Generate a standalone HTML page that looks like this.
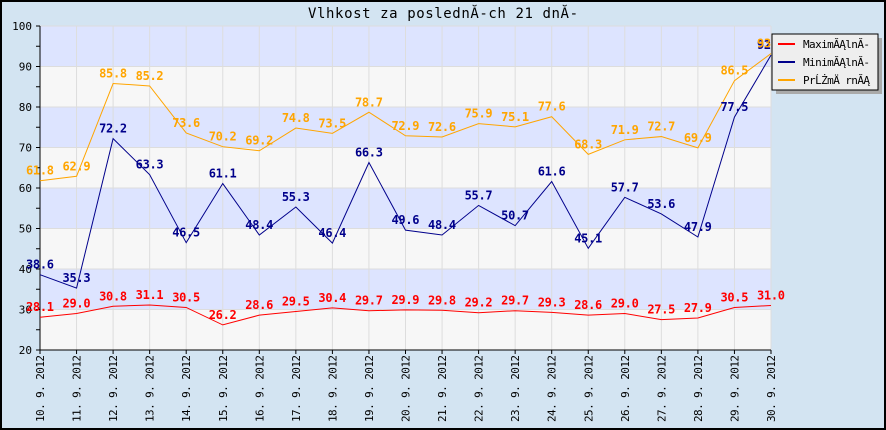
<!DOCTYPE html>
<html><head><meta charset="utf-8"><style>
html,body{margin:0;padding:0;background:#d3e4f2}
svg{display:block}
text{font-family:"DejaVu Sans Mono","Liberation Mono",monospace}
</style></head><body>
<svg id="chart" width="886" height="430" xmlns="http://www.w3.org/2000/svg">
<rect x="1" y="1" width="884" height="428" fill="#d3e4f2" stroke="#000" stroke-width="2"/>
<text x="308" y="18" textLength="270" lengthAdjust="spacing" font-size="14" fill="#000">Vlhkost za poslednĂ-ch 21 dnĂ-</text>
<g id="bands"></g><g id="grid"></g><g id="axes"></g><g id="series"></g><g id="labels"></g>
<g>
<rect x="776" y="38" width="106" height="56" fill="#aaa"/>
<rect x="772" y="34" width="106" height="56" fill="#eeeeee" stroke="#000" stroke-width="1"/>
<line x1="778" y1="44" x2="795" y2="44" stroke="#f00" stroke-width="2"/>
<text x="803" y="48" font-size="11" textLength="67" lengthAdjust="spacing">MaximĂĄlnĂ-</text>
<line x1="778" y1="62" x2="795" y2="62" stroke="#00008b" stroke-width="2"/>
<text x="803" y="66" font-size="11" textLength="67" lengthAdjust="spacing">MinimĂĄlnĂ-</text>
<line x1="778" y1="80" x2="795" y2="80" stroke="#ffa500" stroke-width="2"/>
<text x="803" y="84" font-size="11" textLength="67" lengthAdjust="spacing">PrĹŻmÄ rnĂĄ</text>
</g>
</svg>
<script>
const categories=["10. 9. 2012","11. 9. 2012","12. 9. 2012","13. 9. 2012","14. 9. 2012","15. 9. 2012","16. 9. 2012","17. 9. 2012","18. 9. 2012","19. 9. 2012","20. 9. 2012","21. 9. 2012","22. 9. 2012","23. 9. 2012","24. 9. 2012","25. 9. 2012","26. 9. 2012","27. 9. 2012","28. 9. 2012","29. 9. 2012","30. 9. 2012"];
const maxVals=[28.1,29.0,30.8,31.1,30.5,26.2,28.6,29.5,30.4,29.7,29.9,29.8,29.2,29.7,29.3,28.6,29.0,27.5,27.9,30.5,31.0];
const minVals=[38.6,35.3,72.2,63.3,46.5,61.1,48.4,55.3,46.4,66.3,49.6,48.4,55.7,50.7,61.6,45.1,57.7,53.6,47.9,77.5,92.8];
const avgVals=[61.8,62.9,85.8,85.2,73.6,70.2,69.2,74.8,73.5,78.7,72.9,72.6,75.9,75.1,77.6,68.3,71.9,72.7,69.9,86.5,93.2];
const yTicks=[20,30,40,50,60,70,80,90,100];
const NS="http://www.w3.org/2000/svg";
const L=40,R=771,T=26,B=350,yMin=20,yMax=100;
const xs=i=>L+(R-L)*i/(categories.length-1);
const ys=v=>B-(v-yMin)/(yMax-yMin)*(B-T);
function mk(tag,attrs,parent){const e=document.createElementNS(NS,tag);for(const k in attrs)e.setAttribute(k,attrs[k]);document.getElementById(parent).appendChild(e);return e;}
for(let i=0;i<yTicks.length-1;i++){
 const r=mk('rect',{x:L,y:ys(yTicks[i+1]),width:R-L,height:ys(yTicks[i])-ys(yTicks[i+1]),fill:(i%2===1)?'#dde4ff':'#f7f7f7'},'bands');
 
 
}
yTicks.forEach(t=>{const l=mk('line',{x1:L,x2:R,y1:ys(t),y2:ys(t),stroke:'#dddddd','stroke-width':1},'grid');
 
 });
categories.forEach((c,i)=>{const l=mk('line',{x1:xs(i),x2:xs(i),y1:T,y2:B,stroke:'#dddddd','stroke-width':1},'grid');
 
 });
const ya=mk('line',{x1:L,x2:L,y1:T,y2:B+0.5,stroke:'#000','stroke-width':1},'axes');


const xa=mk('line',{x1:L,x2:R,y1:B,y2:B,stroke:'#000','stroke-width':1},'axes');


yTicks.forEach((t,i)=>{
 mk('line',{x1:L-4,x2:L,y1:ys(t),y2:ys(t),stroke:'#000'},'axes');
 if(i<yTicks.length-1){const m=(t+yTicks[i+1])/2;mk('line',{x1:L-4,x2:L,y1:ys(m),y2:ys(m),stroke:'#000'},'axes');}
 const tx=mk('text',{x:L-8,y:ys(t)+4,'text-anchor':'end','font-size':11},'axes');
 tx.textContent=t;
 
 
});
categories.forEach((c,i)=>{
 mk('line',{x1:xs(i),x2:xs(i),y1:B,y2:B+4,stroke:'#000'},'axes');
 const tx=mk('text',{x:-422,y:xs(i)+4,'font-size':11,textLength:67,lengthAdjust:'spacing',transform:'rotate(-90)'},'axes');
 tx.textContent=c;
 
 
});
function series(vals,color,name){
 const p=mk('polyline',{points:vals.map((v,i)=>xs(i)+','+ys(v)).join(' '),fill:'none',stroke:color,'stroke-width':1},'series');
 
 
 vals.forEach((v,i)=>{
  const t=mk('text',{x:xs(i)-14,y:ys(v)-6,'font-size':12,'font-weight':'bold',textLength:28,lengthAdjust:'spacing',fill:color},'labels');
  t.textContent=v.toFixed(1);
  
  
 });
}
series(maxVals,'#ff0000','max');
series(minVals,'#00008b','min');
series(avgVals,'#ffa500','avg');
</script>
</body></html>
